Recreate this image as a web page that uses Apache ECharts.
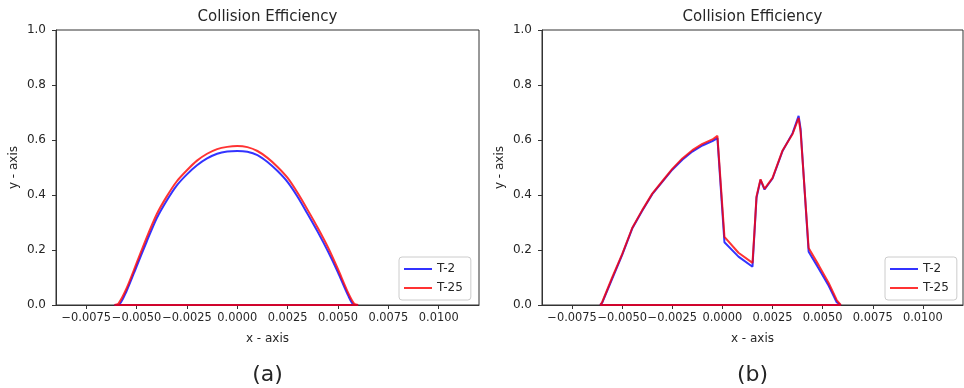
<!DOCTYPE html>
<html>
<head>
<meta charset="utf-8">
<script src="https://cdn.jsdelivr.net/npm/echarts@6/dist/echarts.min.js"></script>
<style>
  html, body { margin: 0; padding: 0; background: #fff; }
  #chart { width: 964px; height: 388px; }
</style>
</head>
<body>
<div id="chart"></div>
<script>
// panel (a)
const xA = [-0.0061, -0.0059, -0.0055, -0.005, -0.0045, -0.004, -0.0035, -0.003, -0.0025, -0.002, -0.0015, -0.001, -0.0005, 0,
  0.0005, 0.001, 0.0015, 0.002, 0.0025, 0.003, 0.0035, 0.004, 0.0045, 0.005, 0.0055, 0.0058, 0.006]
const aT2 = [0, 0, 0.05, 0.14, 0.23, 0.315, 0.38, 0.435, 0.475, 0.508, 0.533, 0.55, 0.558, 0.56,
  0.557, 0.545, 0.52, 0.487, 0.447, 0.393, 0.33, 0.265, 0.195, 0.118, 0.035, 0, 0]
const aT25 = [0, 0.005, 0.06, 0.152, 0.245, 0.33, 0.395, 0.45, 0.49, 0.525, 0.55, 0.567, 0.575, 0.578,
  0.574, 0.56, 0.535, 0.502, 0.462, 0.407, 0.345, 0.28, 0.21, 0.13, 0.045, 0.005, 0]

// panel (b)
const xB = [-0.0061, -0.006, -0.0055, -0.005, -0.0045, -0.004, -0.0035, -0.003, -0.0025, -0.002, -0.0015, -0.001, -0.0005, -0.00025,
  0.0001, 0.0008, 0.0015, 0.0016, 0.0017, 0.0019, 0.0021, 0.0025, 0.003, 0.0035, 0.0038, 0.0039, 0.0043, 0.0048, 0.0053, 0.0057, 0.0059]
const bT2 = [0, 0.008, 0.095, 0.182, 0.278, 0.343, 0.403, 0.448, 0.492, 0.528, 0.558, 0.58, 0.596, 0.607,
  0.228, 0.176, 0.139, 0.265, 0.39, 0.455, 0.42, 0.46, 0.56, 0.625, 0.688, 0.64, 0.194, 0.133, 0.07, 0.01, 0]
const bT25 = [0, 0.01, 0.1, 0.185, 0.28, 0.345, 0.405, 0.45, 0.495, 0.533, 0.563, 0.586, 0.602, 0.615,
  0.248, 0.19, 0.153, 0.27, 0.395, 0.457, 0.422, 0.462, 0.562, 0.622, 0.68, 0.63, 0.207, 0.145, 0.08, 0.018, 0]

const xTicks = [-0.0075, -0.005, -0.0025, 0, 0.0025, 0.005, 0.0075, 0.01]
const seriesNames = ['T-2', 'T-25']
const titles = ['Collision Efficiency', 'Collision Efficiency']
const captions = ['(a)', '(b)']

const textColor = '#262626'
const font = 'DejaVu Sans'

// arc followed by the return along y = 0
function loop(xs, ys) {
  const pts = xs.map((x, i) => [x, ys[i]])
  pts.push([xs[0], 0])
  return pts
}

const grids = [
  { left: 56, right: 485, top: 30, bottom: 83 },
  { left: 542, right: 1, top: 30, bottom: 83 },
]
const centers = [267.5, 752.5]

function xAxis(i) {
  return {
    type: 'value', gridIndex: i, min: -0.009, max: 0.012,
    name: 'x - axis', nameLocation: 'middle', nameGap: 28,
    nameTextStyle: { color: textColor, fontSize: 12, fontFamily: font },
    splitLine: { show: false },
    axisLine: { onZero: false, lineStyle: { color: '#333' } },
    axisTick: { inside: false, length: 4, lineStyle: { color: '#333' }, customValues: xTicks },
    axisLabel: {
      customValues: xTicks, color: textColor, fontSize: 11.4, fontFamily: font, margin: 8,
      hideOverlap: false, showMinLabel: true, showMaxLabel: true,
      formatter: (v) => v.toFixed(4).replace('-', '\u2212'),
    },
  }
}

function yAxis(i) {
  return {
    type: 'value', gridIndex: i, min: 0, max: 1, interval: 0.2,
    name: 'y - axis', nameLocation: 'middle', nameGap: 36,
    nameTextStyle: { color: textColor, fontSize: 12, fontFamily: font },
    splitLine: { show: false },
    axisLine: { show: true, onZero: false, lineStyle: { color: '#333' } },
    axisTick: { show: true, inside: false, length: 4, lineStyle: { color: '#333' } },
    axisLabel: { color: textColor, fontSize: 12, fontFamily: font, margin: 10, formatter: (v) => v.toFixed(1) },
  }
}

function line(name, color, i, data, smooth) {
  return {
    name, type: 'line', xAxisIndex: i, yAxisIndex: i,
    data, showSymbol: false, symbol: 'none', smooth,
    lineStyle: { color, width: 2 }, itemStyle: { color },
    animation: false,
  }
}

function legend(i) {
  return {
    data: seriesNames, orient: 'vertical',
    left: i === 0 ? 399 : 885, top: 257,
    icon: 'rect', itemWidth: 28, itemHeight: 2, itemGap: 7,
    padding: [6, 8, 6, 5],
    backgroundColor: '#fff', borderColor: '#ccc', borderWidth: 1, borderRadius: 3,
    textStyle: { color: textColor, fontSize: 12, fontFamily: font },
  }
}

const chart = echarts.init(document.getElementById('chart'))
chart.setOption({
  animation: false,
  grid: grids.map((g) => ({ ...g, show: true, borderColor: '#333', borderWidth: 1, backgroundColor: '#fff' })),
  xAxis: [xAxis(0), xAxis(1)],
  yAxis: [yAxis(0), yAxis(1)],
  legend: [legend(0), legend(1)],
  graphic: [0, 1].flatMap((i) => [
    {
      type: 'text', x: centers[i], y: 17,
      style: { text: titles[i], fill: textColor, font: '15px "DejaVu Sans"', align: 'center', verticalAlign: 'middle' },
    },
    {
      type: 'text', x: centers[i], y: 375,
      style: { text: captions[i], fill: textColor, font: '22px "DejaVu Sans"', align: 'center', verticalAlign: 'middle' },
    },
  ]),
  series: [
    line('T-2', 'rgba(0,0,255,0.8)', 0, loop(xA, aT2), 0.25),
    line('T-25', 'rgba(255,0,0,0.8)', 0, loop(xA, aT25), 0.25),
    line('T-2', 'rgba(0,0,255,0.8)', 1, loop(xB, bT2), false),
    line('T-25', 'rgba(255,0,0,0.8)', 1, loop(xB, bT25), false),
  ],
})
</script>
</body>
</html>
